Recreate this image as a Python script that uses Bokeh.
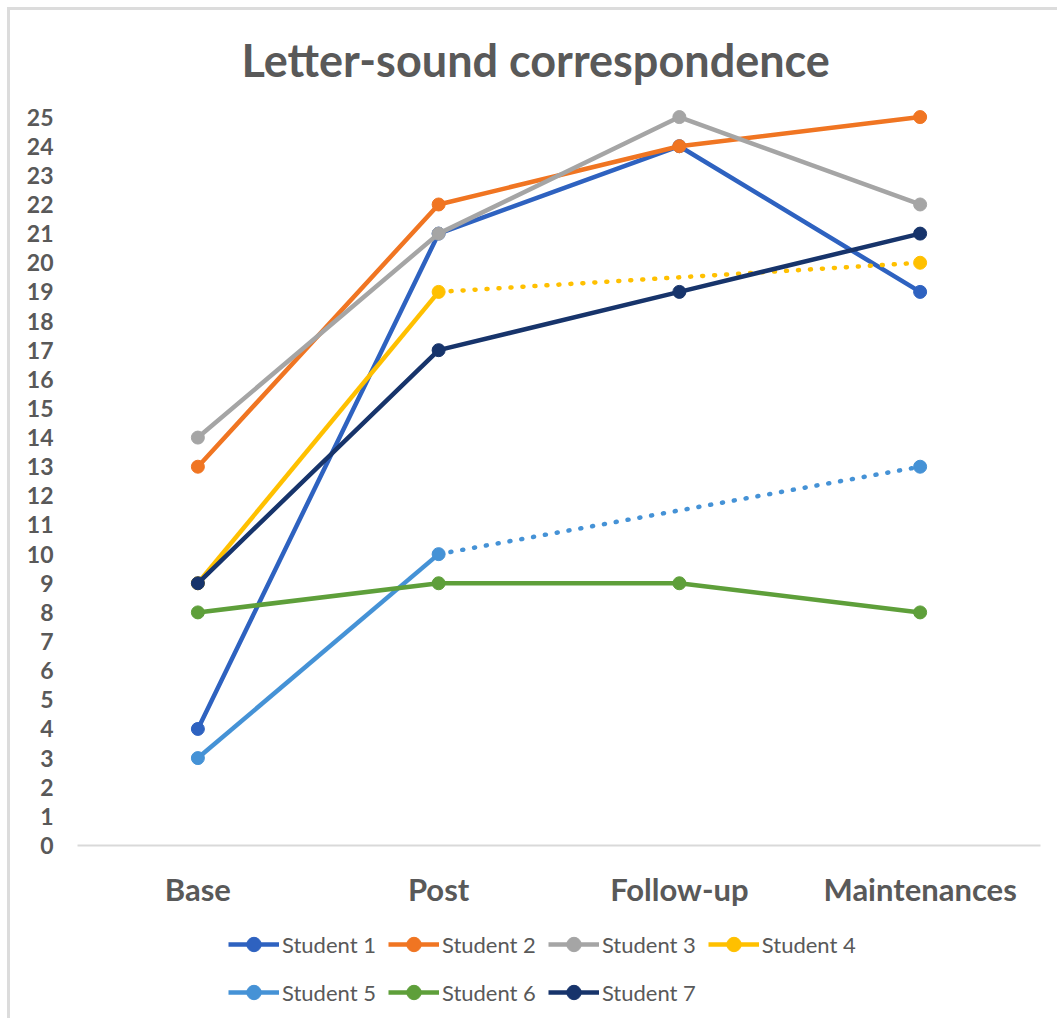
from bokeh.plotting import figure
from bokeh.layouts import column
from bokeh.models import FactorRange, Range1d, FixedTicker, Legend, LegendItem
from bokeh.embed import file_html
from bokeh.resources import INLINE

phases = ["Base", "Post", "Follow-up", "Maintenances"]
students = ["Student 1", "Student 2", "Student 3", "Student 4",
            "Student 5", "Student 6", "Student 7"]
student_1 = [4, 21, 24, 19]
student_2 = [13, 22, 24, 25]
student_3 = [14, 21, 25, 22]
student_4 = [9, 19, None, 20]
student_5 = [3, 10, None, 13]
student_6 = [8, 9, 9, 8]
student_7 = [9, 17, 19, 21]
series = [student_1, student_2, student_3, student_4, student_5, student_6, student_7]
y_ticks = list(range(0, 26))
colors = ["#2E62C0", "#F07522", "#A5A5A5", "#FFC000", "#4592D6", "#5E9F3A", "#17346B"]

FONT = "Lato"
TXT = "#595959"
OFF = 10  # chart border offset (margin + border line)
SLACK = 4  # keep the page slightly smaller than the window

p = figure(width=1061 - OFF - SLACK, height=910 - OFF, x_range=FactorRange(*phases),
           y_range=Range1d(0, 25.5), output_backend="svg", toolbar_location=None,
           min_border_left=77 - OFF, min_border_right=21 - SLACK, min_border_top=102 - OFF,
           min_border_bottom=63)
p.outline_line_color = None
p.xgrid.grid_line_color = None
p.ygrid.grid_line_color = None

p.title.text = "Letter-sound correspondence"
p.title.align = "left"
p.title.text_font = FONT
p.title.text_font_size = "45px"
p.title.text_font_style = "bold"
p.title.text_color = TXT
p.title.standoff = 31
p.title.offset = 164

p.yaxis.ticker = FixedTicker(ticks=y_ticks)
p.yaxis.axis_line_color = None
p.yaxis.major_tick_line_color = None
p.yaxis.minor_tick_line_color = None
p.yaxis.major_tick_out = 0
p.yaxis.major_label_standoff = 24
p.yaxis.major_label_text_font = FONT
p.yaxis.major_label_text_font_size = "23px"
p.yaxis.major_label_text_font_style = "bold"
p.yaxis.major_label_text_color = TXT

p.xaxis.axis_line_color = "#D9D9D9"
p.xaxis.axis_line_width = 2
p.xaxis.major_tick_line_color = None
p.xaxis.minor_tick_line_color = None
p.xaxis.major_tick_out = 0
p.xaxis.major_label_standoff = 24
p.xaxis.major_label_text_font = FONT
p.xaxis.major_label_text_font_size = "31px"
p.xaxis.major_label_text_font_style = "bold"
p.xaxis.major_label_text_color = TXT

# legend strip below the chart
lg = figure(width=1061 - OFF - SLACK, height=112 - SLACK, x_range=Range1d(0, 1),
            y_range=Range1d(0, 1), output_backend="svg", toolbar_location=None,
            min_border_left=0, min_border_right=0, min_border_top=0, min_border_bottom=0)
lg.axis.visible = False
lg.grid.visible = False
lg.outline_line_color = None

items = []
for name, vals, col in zip(students, series, colors):
    ys = [float("nan") if v is None else v for v in vals]
    # dotted connectors across missing values
    valid = [i for i, v in enumerate(vals) if v is not None]
    for a, b in zip(valid[:-1], valid[1:]):
        if b - a > 1:
            p.line([phases[a], phases[b]], [vals[a], vals[b]], line_color=col,
                   line_width=4.5, line_dash="1 11", line_cap="round")
    p.line(phases, ys, line_color=col, line_width=4.5)
    p.scatter([phases[i] for i in valid], [vals[i] for i in valid],
              marker="circle", size=13, fill_color=col, line_color=col)
    # legend-only renderers, kept outside the visible range of the strip
    k1 = lg.line([5, 6], [5, 6], line_color=col, line_width=4.5)
    k2 = lg.scatter([5], [5], marker="circle", size=11, fill_color=col, line_color=col)
    items.append(LegendItem(label=name, renderers=[k1, k2]))

legend = Legend(items=items, orientation="horizontal", ncols=4,
                location=(151, 12 - SLACK), border_line_color=None, background_fill_alpha=0,
                label_text_font=FONT, label_text_font_size="22px",
                label_text_color=TXT, glyph_width=51, glyph_height=36,
                label_height=36, label_standoff=3, spacing=12, padding=0, margin=0)
lg.add_layout(legend, "center")

layout = column(p, lg, margin=(7, 0, 0, 7),
                styles={"border-top": "3px solid #DCDCDC",
                        "border-left": "3px solid #DCDCDC"})

open("out.html", "w").write(file_html(layout, INLINE))
